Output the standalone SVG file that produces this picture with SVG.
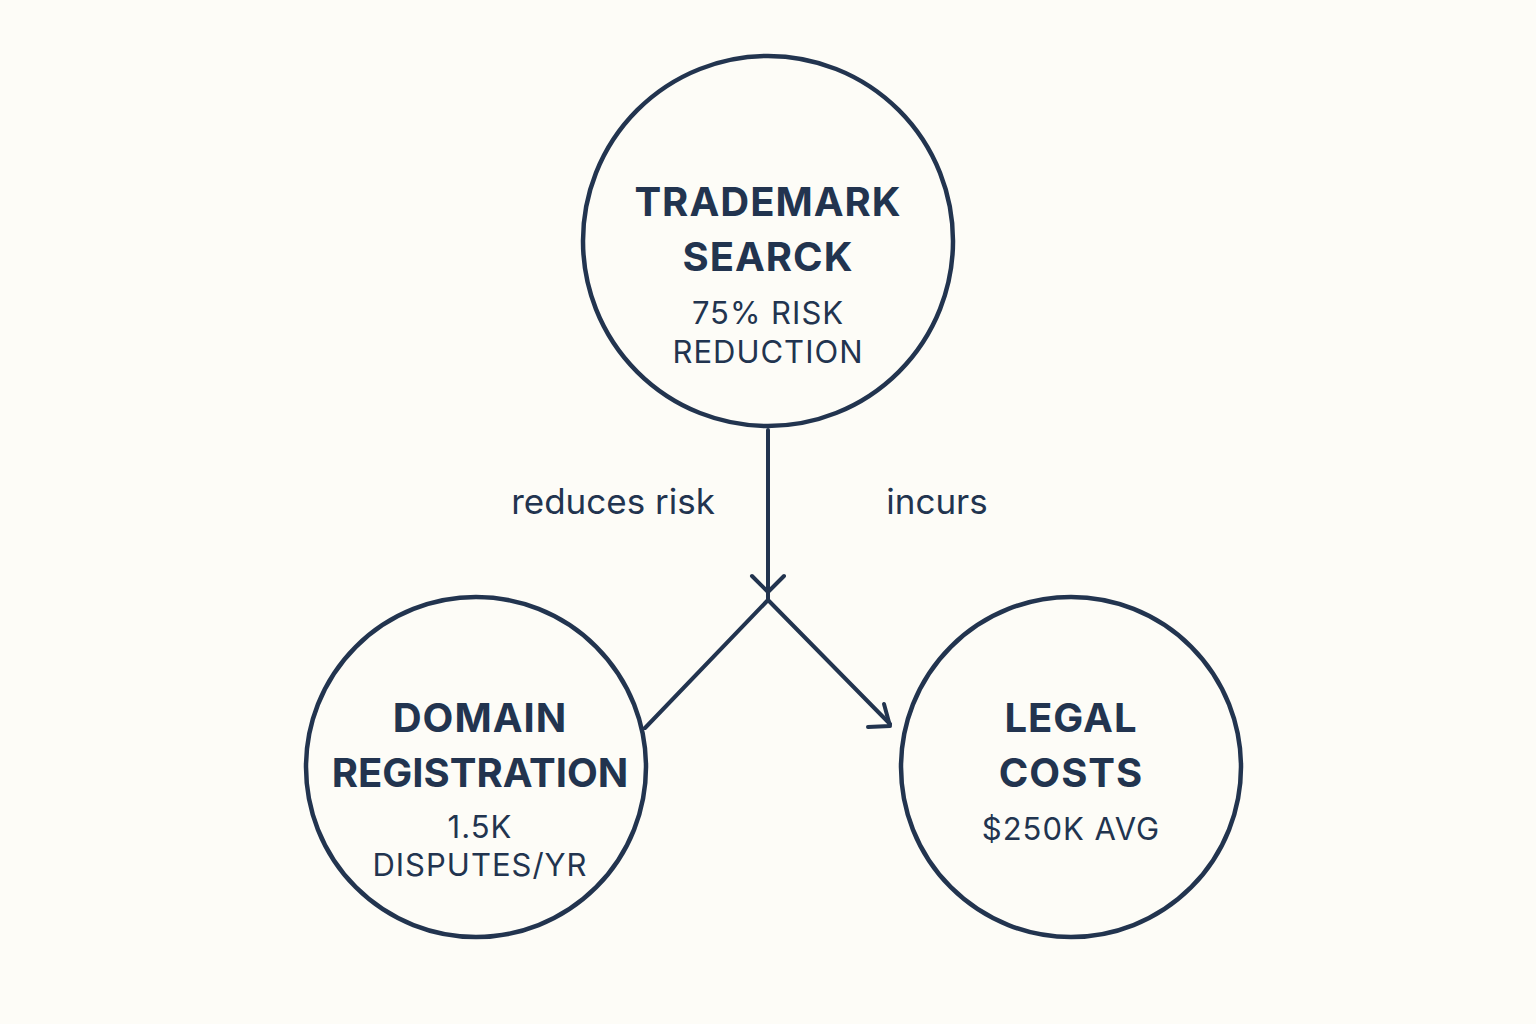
<svg xmlns="http://www.w3.org/2000/svg" width="1536" height="1024" viewBox="0 0 1536 1024">
<style>
.n{fill:none;stroke:#22344f;stroke-width:4.5}
.t{font-family:Inter,"Liberation Sans",sans-serif;font-weight:700;font-size:40px;fill:#22344f;text-anchor:middle;letter-spacing:1px}
.s{font-family:Inter,"Liberation Sans",sans-serif;font-size:31px;fill:#22344f;text-anchor:middle;letter-spacing:1px}
.l{font-family:Inter,"Liberation Sans",sans-serif;font-size:35px;fill:#22344f;text-anchor:middle}
.c{fill:none;stroke:#22344f;stroke-width:4;stroke-linecap:round;stroke-linejoin:round}
</style>
<rect width="1536" height="1024" fill="#fdfcf7"/>
<g id="connectors">
<path class="c" d="M768 430 V600 M768 600 L645 728 M768 600 L890 724"/>
<path class="c" d="M752 576 L768 592 L784 576"/>
<path class="c" d="M868 727 L890 726 L884 704"/>
<text class="l" x="613" y="514">reduces risk</text>
<text class="l" x="937" y="514">incurs</text>
</g>
<g id="trademark">
<circle class="n" cx="768" cy="241" r="185"/>
<text class="t" x="768" y="216">TRADEMARK</text>
<text class="t" x="768" y="271">SEARCK</text>
<text class="s" x="768" y="324">75% RISK</text>
<text class="s" x="768" y="363">REDUCTION</text>
</g>
<g id="domain">
<circle class="n" cx="476" cy="767" r="170"/>
<text class="t" x="480" y="732">DOMAIN</text>
<text class="t" x="480" y="787" style="letter-spacing:0">REGISTRATION</text>
<text class="s" x="480" y="838">1.5K</text>
<text class="s" x="480" y="876">DISPUTES/YR</text>
</g>
<g id="legal">
<circle class="n" cx="1071" cy="767" r="170"/>
<text class="t" x="1071" y="732">LEGAL</text>
<text class="t" x="1071" y="787">COSTS</text>
<text class="s" x="1071" y="840">$250K AVG</text>
</g>
</svg>
